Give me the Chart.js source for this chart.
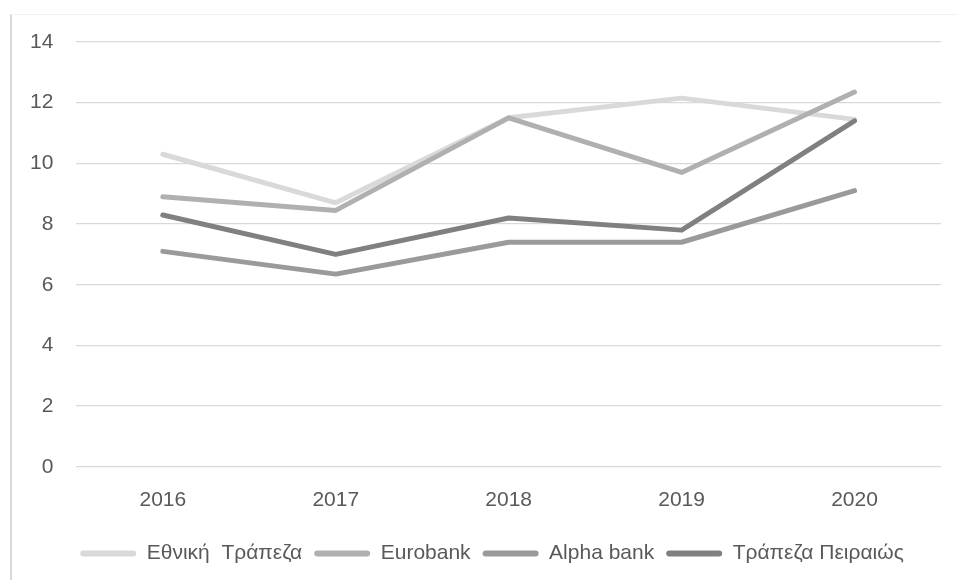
<!DOCTYPE html>
<html>
<head>
<meta charset="utf-8">
<script src="https://cdn.jsdelivr.net/npm/chart.js@4/dist/chart.umd.min.js"></script>
<style>
  html, body { margin: 0; padding: 0; background: #fff; }
  #wrap { position: relative; width: 958px; height: 580px; }
  #frame {
    position: absolute; left: 10px; top: 14px; right: 0; bottom: 0;
    border-left: 2px solid #d9d9d9; border-top: 1px solid #f3f3f3;
    pointer-events: none;
  }
</style>
</head>
<body>
<div id="wrap">
  <canvas id="chart" width="958" height="580"></canvas>
  <div id="frame"></div>
</div>
<script>
// data
const years = ['2016', '2017', '2018', '2019', '2020'];
const seriesNames = ['Εθνική  Τράπεζα', 'Eurobank', 'Alpha bank', 'Τράπεζα Πειραιώς'];
const ethniki = [10.3, 8.7, 11.5, 12.15, 11.45];
const eurobank = [8.9, 8.45, 11.5, 9.7, 12.35];
const alpha = [7.1, 6.35, 7.4, 7.4, 9.1];
const piraeus = [8.3, 7.0, 8.2, 7.8, 11.4];
const yTicks = [0, 2, 4, 6, 8, 10, 12, 14];

const colors = ['#d9d9d9', '#b0b0b0', '#9a9a9a', '#808080'];
const values = [ethniki, eurobank, alpha, piraeus];

const fontFamily = "'Liberation Sans', 'DejaVu Sans', sans-serif";

const datasets = values.map((vals, i) => ({
  label: seriesNames[i],
  data: vals,
  borderColor: colors[i],
  backgroundColor: colors[i],
  borderWidth: 5,
  borderCapStyle: 'round',
  borderJoinStyle: 'round',
  pointRadius: 0,
  tension: 0,
  fill: false,
  order: values.length - i // later series drawn on top, like Excel
}));

// nudge the legend a bit right/down, where the original sits
const legendNudge = {
  id: 'legendNudge',
  afterLayout(chart) {
    const lg = chart.legend;
    if (!lg) return;
    lg.left += 18; lg.right += 18;
    lg.top += 5; lg.bottom += 5;
  }
};

new Chart(document.getElementById('chart').getContext('2d'), {
  type: 'line',
  data: { labels: years, datasets: datasets },
  plugins: [legendNudge],
  options: {
    responsive: false,
    animation: false,
    layout: { padding: { left: 7, right: 17, top: 42, bottom: 11 } },
    plugins: {
      tooltip: { enabled: false },
      legend: {
        position: 'bottom',
        labels: {
          color: '#595959',
          font: { family: fontFamily, size: 21 },
          boxWidth: 56,
          boxHeight: 6,
          padding: 12,
          useBorderRadius: true,
          borderRadius: 3,
          sort: (a, b) => a.datasetIndex - b.datasetIndex,
          generateLabels: (chart) => {
            const items = Chart.defaults.plugins.legend.labels.generateLabels(chart);
            items.forEach(it => { it.lineWidth = 0; it.fillStyle = colors[it.datasetIndex]; });
            return items;
          }
        }
      }
    },
    scales: {
      x: {
        offset: true,
        grid: { display: false },
        border: { display: false },
        ticks: { color: '#595959', font: { family: fontFamily, size: 21 }, padding: 13 }
      },
      y: {
        min: 0,
        max: 14,
        afterBuildTicks: (axis) => { axis.ticks = yTicks.map(v => ({ value: v })); },
        grid: { color: '#d9d9d9', lineWidth: 1.3, drawTicks: false },
        border: { display: false },
        ticks: { color: '#595959', font: { family: fontFamily, size: 21 }, padding: 23 }
      }
    }
  }
});
</script>
</body>
</html>
